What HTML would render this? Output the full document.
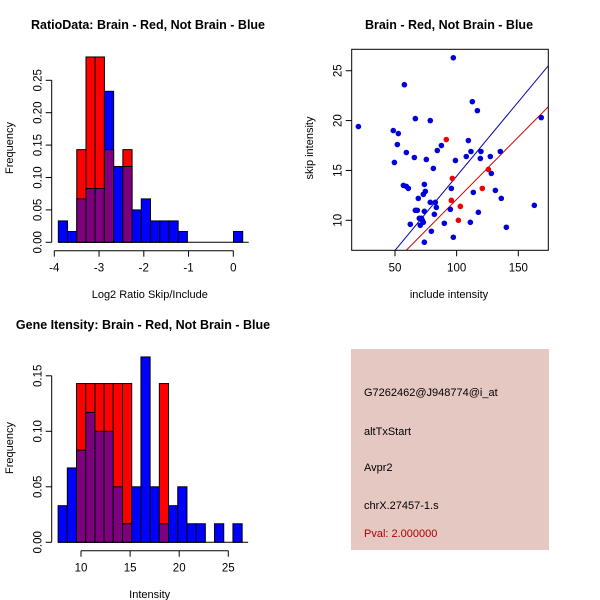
<!DOCTYPE html>
<html><head><meta charset="utf-8"><style>
body{margin:0;background:#fff}
svg{display:block;font-family:"Liberation Sans",sans-serif}
</style></head><body>
<svg id="c" width="600" height="600" xmlns="http://www.w3.org/2000/svg"></svg>
<script>
// Panel 1: ratio histogram
const ratioBlue=[0.033,0.0167,0.067,0.083,0.083,0.233,0.117,0.117,0.05,0.067,0.033,0.033,0.033,0.0167,0,0,0,0,0,0.0167];
const ratioRed=[0,0,0.143,0.286,0.286,0.143,0,0.143,0,0,0,0,0,0,0,0,0,0,0,0];
const ratioBinStart=-3.91, ratioBinWidth=0.206;
const ratioXTicks=[-4,-3,-2,-1,0];
const ratioYTicks=[0,0.05,0.10,0.15,0.20,0.25];
const ratioYLabels=["0.00","0.05","0.10","0.15","0.20","0.25"];
// Panel 2: scatter
const blueX=[20.3,97.3,57.6,112.7,116.8,66.5,78.6,168.6,48.6,52.7,51.9,109.5,87.6,84.3,111.6,119.7,135.4,59.2,65.7,107.8,119.2,127.3,99,75.4,49.5,81.1,128.1,95.7,56.8,59.2,60.8,73.8,74.6,73,68.9,113.5,131.4,136.2,78.6,82.7,83.5,163,94.9,66.5,68.1,73.8,81.9,117.6,111.1,69.7,71.4,72.2,73,62.4,70.5,90,79.5,140.3,97.3,73.8];
const blueY=[19.4,26.3,23.6,21.9,21.0,20.2,20.0,20.3,19.0,18.7,17.6,18.0,17.5,17.0,16.9,16.9,16.9,16.8,16.3,16.4,16.2,16.4,16.0,16.1,15.8,15.2,14.7,13.2,13.5,13.4,13.2,13.6,12.9,12.6,12.2,12.8,13.0,12.2,11.8,11.8,11.3,11.5,11.1,11.0,11.0,10.9,10.6,10.8,9.8,10.2,10.2,10.0,9.8,9.6,9.5,9.7,8.9,9.3,8.3,7.8];
const redX=[91.6,96.5,125.7,120.8,95.7,103,101.4];
const redY=[18.1,14.2,15.1,13.2,12.0,11.4,10.0];
const blueLine=[-0.47,0.149]; // intercept, slope
const redLine=[-0.4,0.125];
const scXTicks=[50,100,150];
const scYTicks=[10,15,20,25];
// Panel 3: intensity histogram
const intBlue=[0.033,0.067,0.083,0.117,0.1,0.1,0.05,0.0167,0.05,0.167,0.05,0.0167,0.033,0.05,0.0167,0.0167,0,0.0167,0,0.0167];
const intRed=[0,0,0.143,0.143,0.143,0.143,0.143,0.143,0,0,0,0.143,0,0,0,0,0,0,0,0];
const intBinStart=7.67, intBinWidth=0.937;
const intXTicks=[10,15,20,25];
const intYTicks=[0,0.05,0.10,0.15];
const intYLabels=["0.00","0.05","0.10","0.15"];

const svg=document.getElementById('c');
const NS='http://www.w3.org/2000/svg';
function el(tag,attrs,parent){const e=document.createElementNS(NS,tag);for(const k in attrs)e.setAttribute(k,attrs[k]);(parent||svg).appendChild(e);return e;}
function txt(s,attrs,parent){const e=el('text',attrs,parent);e.textContent=s;return e;}

function hist(g,opts){
  const {blue,red,start,w,sx,sy,xt,yt,yl,yAxisX,xAxisY,xMin,xMax,title,tx,ty,xlab,xlabY,ylabX,ylabY}=opts;
  for(let i=0;i<blue.length;i++){
    const x0=sx(start+i*w),x1=sx(start+(i+1)*w);
    const b=blue[i],r=red[i],mn=Math.min(b,r),mx=Math.max(b,r);
    if(mx>0){const rc=el('rect',{x:x0,y:sy(mx),width:x1-x0,height:sy(0)-sy(mx),fill:b>=r?'#0000ff':'#ff0000',stroke:'#000','stroke-width':1},g);
      
      }
    if(mn>0){const pc=el('rect',{x:x0,y:sy(mn),width:x1-x0,height:sy(0)-sy(mn),fill:'#7f007f',stroke:'#000','stroke-width':1},g);
      
      }
  }
  el('line',{x1:sx(start),x2:sx(start+blue.length*w)+6,y1:sy(0),y2:sy(0),stroke:'#000'},g);
  el('line',{x1:sx(xMin),x2:sx(xMax),y1:xAxisY,y2:xAxisY,stroke:'#000'},g);
  xt.forEach(v=>{el('line',{x1:sx(v),x2:sx(v),y1:xAxisY,y2:xAxisY+6,stroke:'#000'},g);
    txt(String(v),{x:sx(v),y:xAxisY+21,'font-size':11.5,'text-anchor':'middle'},g);});
  el('line',{x1:yAxisX,x2:yAxisX,y1:sy(yt[0]),y2:sy(yt[yt.length-1]),stroke:'#000'},g);
  yt.forEach((v,i)=>{el('line',{x1:yAxisX,x2:yAxisX-6,y1:sy(v),y2:sy(v),stroke:'#000'},g);
    txt(yl[i],{x:yAxisX-10,y:sy(v),'font-size':11.5,'text-anchor':'middle',transform:`rotate(-90 ${yAxisX-10} ${sy(v)})`},g);});
  txt(title,{x:tx,y:ty,'font-size':12.5,'font-weight':'bold','text-anchor':'middle'},g);
  txt(xlab,{x:(sx(xMin)+sx(xMax))/2+ (opts.xlabDx||0),y:xlabY,'font-size':11,'text-anchor':'middle'},g);
  txt('Frequency',{x:ylabX,y:ylabY,'font-size':11,'text-anchor':'middle',transform:`rotate(-90 ${ylabX} ${ylabY})`},g);
}

const g1=el('g',{});
const s1x=v=>54.3+(v+4)*44.75, s1y=v=>242.3-v*648;
hist(g1,{blue:ratioBlue,red:ratioRed,start:ratioBinStart,w:ratioBinWidth,sx:s1x,sy:s1y,xt:ratioXTicks,yt:ratioYTicks,yl:ratioYLabels,yAxisX:51.7,xAxisY:250.7,xMin:-4,xMax:0,title:'RatioData: Brain - Red, Not Brain - Blue',tx:148,ty:29,xlab:'Log2 Ratio Skip/Include',xlabY:298,xlabDx:6,ylabX:13,ylabY:148});

const g3=el('g',{});
const s3x=v=>81+(v-10)*9.82, s3y=v=>542.3-v*1110;
hist(g3,{blue:intBlue,red:intRed,start:intBinStart,w:intBinWidth,sx:s3x,sy:s3y,xt:intXTicks,yt:intYTicks,yl:intYLabels,yAxisX:51.7,xAxisY:550.7,xMin:10,xMax:25,title:'Gene Itensity: Brain - Red, Not Brain - Blue',tx:143,ty:329,xlab:'Intensity',xlabY:598,xlabDx:-5,ylabX:13,ylabY:448});

// scatter
const g2=el('g',{});
const s2x=v=>395+(v-50)*1.233, s2y=v=>220.3-(v-10)*9.97;
const L=351.7,R=548.3,T=49.3,B=250.3;
const cp=el('clipPath',{id:'clp'},g2);el('rect',{x:L,y:T,width:R-L,height:B-T},cp);
const pg=el('g',{'clip-path':'url(#clp)'},g2);
[[blueLine,'#0000aa'],[redLine,'#cc0000']].forEach(([ln,col])=>{
  const xa=0,xb=200;
  const l=el('line',{x1:s2x(xa),y1:s2y(ln[0]+ln[1]*xa),x2:s2x(xb),y2:s2y(ln[0]+ln[1]*xb),stroke:col,'stroke-width':1},pg);
  
  
});
blueX.forEach((x,i)=>{const c=el('circle',{cx:s2x(x),cy:s2y(blueY[i]),r:2.8,fill:'#0000dd'},pg);
  
  });
redX.forEach((x,i)=>{const c=el('circle',{cx:s2x(x),cy:s2y(redY[i]),r:2.8,fill:'#ee0000'},pg);
  
  });
el('rect',{x:L,y:T,width:R-L,height:B-T,fill:'none',stroke:'#000'},g2);
scXTicks.forEach(v=>{el('line',{x1:s2x(v),x2:s2x(v),y1:B,y2:B+6,stroke:'#000'},g2);
  txt(String(v),{x:s2x(v),y:B+21,'font-size':11.5,'text-anchor':'middle'},g2);});
scYTicks.forEach(v=>{el('line',{x1:L,x2:L-6,y1:s2y(v),y2:s2y(v),stroke:'#000'},g2);
  txt(String(v),{x:L-10,y:s2y(v),'font-size':11.5,'text-anchor':'middle',transform:`rotate(-90 ${L-10} ${s2y(v)})`},g2);});
txt('Brain - Red, Not Brain - Blue',{x:449,y:29,'font-size':12.5,'font-weight':'bold','text-anchor':'middle'},g2);
txt('include intensity',{x:449,y:298,'font-size':11,'text-anchor':'middle'},g2);
txt('skip intensity',{x:313,y:148,'font-size':11,'text-anchor':'middle',transform:'rotate(-90 313 148)'},g2);

// info box
const g4=el('g',{});
el('rect',{x:351,y:349,width:198,height:201,fill:'#e6c8c2'},g4);
[['G7262462@J948774@i_at',396,'#000'],['altTxStart',435,'#000'],['Avpr2',471,'#000'],['chrX.27457-1.s',509,'#000'],['Pval: 2.000000',537,'#aa0000']].forEach(([s,y,c])=>{
  txt(s,{x:364,y:y,'font-size':11,fill:c},g4);});
</script>
</body></html>
